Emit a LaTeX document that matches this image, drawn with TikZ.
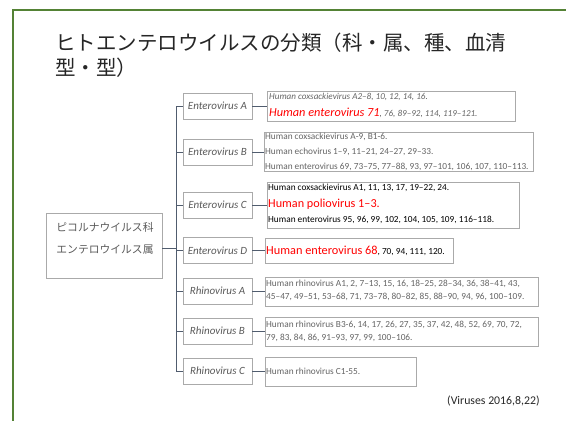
\documentclass[tikz,border=0pt]{standalone}
\usepackage{fontspec}
\setmainfont{Carlito}
\newfontfamily\jp{Noto Sans CJK JP}
\definecolor{framegreen}{RGB}{84,130,53}
\definecolor{conn}{RGB}{80,92,110}
\definecolor{boxgray}{RGB}{170,170,170}
\definecolor{txtgray}{RGB}{89,89,89}
\definecolor{leafgray}{RGB}{100,100,100}
\tikzset{
  genbox/.style={draw=boxgray, line width=0.8pt, minimum width=69pt, minimum height=26pt, inner sep=0pt,
    font=\fontsize{11}{13}\selectfont\itshape, text=txtgray},
  leafbox/.style={draw=boxgray, line width=0.8pt, anchor=north west, inner sep=0pt},
  leaftxt/.style={anchor=west, inner sep=0pt, font=\fontsize{9.3}{11}\selectfont, text=leafgray},
  conline/.style={draw=conn, line width=0.9pt},
}
\begin{document}
\begin{tikzpicture}[x=1pt,y=-1pt]
\useasboundingbox (0,0) rectangle (566,421);
\draw[framegreen, line width=2pt] (567,10) -- (13,10) -- (13,422);
% title
\node[anchor=west, inner sep=0pt, text=black!85, font=\jp\fontsize{20.5}{25}\selectfont] (t1) at (55,43) {ヒトエンテロウイルスの分類（科・属、種、血清};
\node[anchor=west, inner sep=0pt, text=black!85, font=\jp\fontsize{20.5}{25}\selectfont] (t2) at (55,68) {型・型）};
% root
\node[draw=boxgray, line width=0.8pt, minimum width=116pt, minimum height=65pt, inner sep=0pt] (root) at (104,245.5) {};
\node[inner sep=0pt, text=txtgray, font=\jp\fontsize{10.8}{22}\selectfont, align=center] (roottxt) at (105,238.5) {ピコルナウイルス科\\エンテロウイルス属};
% genera
\node[genbox] (ea) at (217.5,106) {Enterovirus A};
\node[genbox] (eb) at (217.5,152) {Enterovirus B};
\node[genbox] (ec) at (217.5,205) {Enterovirus C};
\node[genbox] (ed) at (217.5,250.5) {Enterovirus D};
\node[genbox] (ra) at (217.5,291) {Rhinovirus A};
\node[genbox] (rb) at (217.5,331) {Rhinovirus B};
\node[genbox] (rc) at (217.5,371) {Rhinovirus C};
% trunk
\coordinate (tt) at (176,106);
\draw[conline] (ea.west) -- (tt) |- (rc.west);
\foreach \n in {eb,ec,ed,ra,rb} \draw[conline] (\n.west) -- (\n.west -| tt);
\draw[conline] (root.east |- 0,248) -- (tt |- 0,248);
% leaf boxes
\node[leafbox, minimum width=248pt, minimum height=30pt] (la) at (267,91) {};
\node[leafbox, minimum width=269pt, minimum height=39pt] (lb) at (264,132) {};
\node[leafbox, minimum width=252pt, minimum height=46pt] (lc) at (267,182) {};
\node[leafbox, minimum width=188pt, minimum height=25pt] (ld) at (265,238) {};
\node[leafbox, minimum width=273pt, minimum height=29pt] (lra) at (265,277) {};
\node[leafbox, minimum width=273pt, minimum height=29pt] (lrb) at (265,317) {};
\node[leafbox, minimum width=151pt, minimum height=29pt] (lrc) at (265,357) {};
% connectors genus -> leaf
\draw[conline] (ea.east) -- (ea.east -| la.west);
\draw[conline] (eb.east) -- (eb.east -| lb.west);
\draw[conline] (ec.east) -- (ec.east -| lc.west);
\draw[conline] (ed.east) -- (ed.east -| ld.west);
\draw[conline] (ra.east) -- (ra.east -| lra.west);
\draw[conline] (rb.east) -- (rb.east -| lrb.west);
\draw[conline] (rc.east) -- (rc.east -| lrc.west);
% leaf texts
\node[leaftxt, font=\fontsize{9.1}{11}\selectfont\itshape] (a1) at (269,97) {Human coxsackievirus A2–8, 10, 12, 14, 16.};
\node[leaftxt, font=\fontsize{9.1}{11}\selectfont\itshape] (a2) at (269,113) {\textcolor{red}{\fontsize{12.3}{14}\selectfont Human enterovirus 71}, 76, 89–92, 114, 119–121.};
\node[leaftxt] (b1) at (265,137) {Human coxsackievirus A-9, B1-6.};
\node[leaftxt] (b2) at (265,152) {Human echovirus 1–9, 11–21, 24–27, 29–33.};
\node[leaftxt] (b3) at (265,167) {Human enterovirus 69, 73–75, 77–88, 93, 97–101, 106, 107, 110–113.};
\node[leaftxt, text=black] (c1) at (268,188) {Human coxsackievirus A1, 11, 13, 17, 19–22, 24.};
\node[leaftxt, text=red, font=\fontsize{12.2}{14}\selectfont] (c2) at (268,204) {Human poliovirus 1–3.};
\node[leaftxt, text=black] (c3) at (268,220) {Human enterovirus 95, 96, 99, 102, 104, 105, 109, 116–118.};
\node[leaftxt, text=black] (d1) at (266,251) {\textcolor{red}{\fontsize{12.3}{14}\selectfont Human enterovirus 68}, 70, 94, 111, 120.};
\node[leaftxt] (ra1) at (266,284) {Human rhinovirus A1, 2, 7–13, 15, 16, 18–25, 28–34, 36, 38–41, 43,};
\node[leaftxt] (ra2) at (266,297) {45–47, 49–51, 53–68, 71, 73–78, 80–82, 85, 88–90, 94, 96, 100–109.};
\node[leaftxt] (rb1) at (266,325) {Human rhinovirus B3-6, 14, 17, 26, 27, 35, 37, 42, 48, 52, 69, 70, 72,};
\node[leaftxt] (rb2) at (266,338) {79, 83, 84, 86, 91–93, 97, 99, 100–106.};
\node[leaftxt] (rc1) at (266,371) {Human rhinovirus C1-55.};
% citation
\node[anchor=west, inner sep=0pt, text=black!85, font=\fontsize{11.8}{14}\selectfont] (cite) at (447,401) {(Viruses 2016,8,22)};
\end{tikzpicture}
\end{document}
